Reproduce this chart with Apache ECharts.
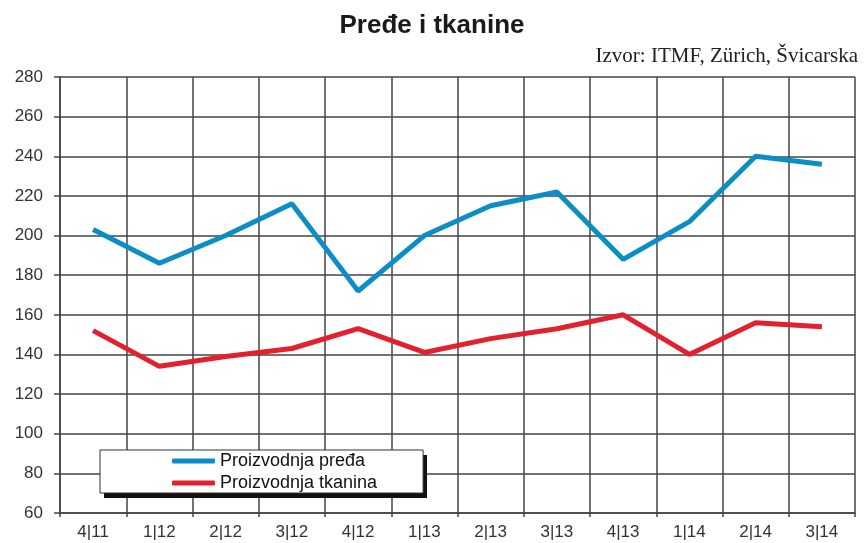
<!DOCTYPE html>
<html>
<head>
<meta charset="utf-8">
<script src="https://cdn.jsdelivr.net/npm/echarts@6/dist/echarts.min.js"></script>
<style>
html, body { margin: 0; padding: 0; background: #fff; }
#main { width: 864px; height: 543px; }
</style>
</head>
<body>
<div id="main"></div>
<script>
var kvartali = ['4|11', '1|12', '2|12', '3|12', '4|12', '1|13', '2|13', '3|13', '4|13', '1|14', '2|14', '3|14']
var prede = [203, 186, 200, 216, 172, 200, 215, 222, 188, 207, 240, 236]
var tkanine = [152, 134, 139, 143, 153, 141, 148, 153, 160, 140, 156, 154]
var yTicks = [60, 280, 20]

var mCharts = echarts.init(document.getElementById('main'))
var option = {
    animation: false,
    title: [
        {
            text: 'Pređe i tkanine',
            left: 'center',
            top: 8,
            textStyle: { fontFamily: 'Liberation Sans', fontSize: 26, fontWeight: 'bold', color: '#1a1a1a' }
        },
        {
            text: 'Izvor: ITMF, Zürich, Švicarska',
            right: 1,
            top: 41,
            textStyle: { fontFamily: 'Liberation Serif', fontSize: 21, fontWeight: 'normal', color: '#222' }
        }
    ],
    // sjena iza legende
    graphic: [
        {
            type: 'rect',
            z: 2,
            shape: { x: 104, y: 455, width: 323, height: 43 },
            style: { fill: '#111' }
        }
    ],
    grid: { left: 60, right: 9, top: 77, bottom: 30 },
    legend: {
        orient: 'vertical',
        left: 100,
        top: 450,
        z: 5,
        padding: [2, 46, 1, 72],
        itemGap: 4,
        itemWidth: 43,
        itemHeight: 5,
        icon: 'roundRect',
        backgroundColor: '#fff',
        borderColor: '#333',
        borderWidth: 1,
        textStyle: { fontFamily: 'Liberation Sans', fontSize: 18, color: '#111' },
        data: ['Proizvodnja pređa', 'Proizvodnja tkanina']
    },
    xAxis: {
        type: 'category',
        data: kvartali,
        boundaryGap: true,
        axisLine: { show: true, lineStyle: { color: '#444', width: 1.5 } },
        axisTick: { show: true, length: 4, lineStyle: { color: '#444', width: 1.5 } },
        axisLabel: { fontFamily: 'Liberation Sans', fontSize: 17, color: '#333', margin: 11 },
        splitLine: { show: true, lineStyle: { color: '#444', width: 1.5 } }
    },
    yAxis: {
        type: 'value',
        min: yTicks[0],
        max: yTicks[1],
        interval: yTicks[2],
        axisLine: { show: true, lineStyle: { color: '#444', width: 1.5 } },
        axisTick: { show: true, length: 6, lineStyle: { color: '#444', width: 1.5 } },
        axisLabel: { fontFamily: 'Liberation Sans', fontSize: 17, color: '#333', margin: 17 },
        splitLine: { show: true, lineStyle: { color: '#444', width: 1.5 } }
    },
    series: [
        {
            name: 'Proizvodnja pređa',
            type: 'line',
            data: prede,
            symbol: 'none',
            itemStyle: { color: '#0b8dc6' },
            lineStyle: { color: '#0b8dc6', width: 5 }
        },
        {
            name: 'Proizvodnja tkanina',
            type: 'line',
            data: tkanine,
            symbol: 'none',
            itemStyle: { color: '#e3202e' },
            lineStyle: { color: '#e3202e', width: 5 }
        }
    ]
}
mCharts.setOption(option)
</script>
</body>
</html>
